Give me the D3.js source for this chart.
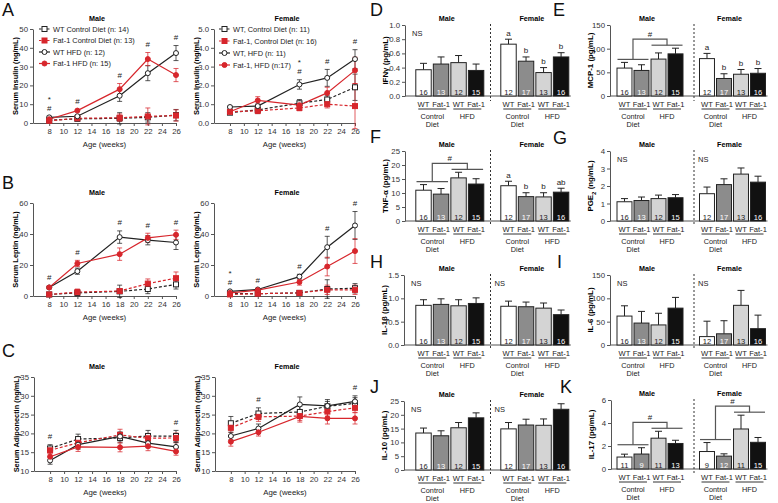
<!DOCTYPE html>
<html><head><meta charset="utf-8">
<script src="https://cdn.jsdelivr.net/npm/d3@7"></script>
<style>
body{margin:0;background:#fff}
svg{font-family:Arial,"Liberation Sans",Helvetica,sans-serif}
</style></head><body>
<svg id="c" width="778" height="503"></svg>
<script>
// ---------------- DATA ----------------
const ages=[8,12,18,22,26];
const xTicks=[8,10,12,14,16,18,20,22,24,26];
const legendMale=["WT Control Diet (n: 14)","Fat-1 Control Diet (n: 13)","WT HFD (n: 12)","Fat-1 HFD (n: 15)"];
const legendFemale=["WT, Control Diet (n: 11)","Fat-1, Control Diet (n: 16)","WT, HFD (n: 11)","Fat-1, HFD (n:17)"];
// series order: WT CD, Fat-1 CD, WT HFD, Fat-1 HFD
const insulinMale=[[1.5,2.2,2.5,3.0,4.2],[1.2,2.5,2.8,3.5,4.0],[3.0,3.6,14.5,26.5,37.2],[2.0,6.6,18.0,34.0,25.5]];
const insulinMaleErr=[[0.4,0.6,3.0,2.5,3.0],[0.5,0.5,2.0,4.5,3.0],[0.6,0.6,3.0,4.0,4.0],[0.5,0.5,3.0,3.5,3.5]];
const insulinFemale=[[0.55,0.7,1.05,1.25,1.9],[0.6,0.65,0.8,1.0,0.9],[0.85,0.9,2.05,2.4,3.4],[0.6,1.2,0.95,1.6,2.8]];
const insulinFemaleErr=[[0.1,0.2,0.2,0.2,0.7],[0.1,0.15,0.15,0.2,1.2],[0.05,0.1,0.25,0.45,0.5],[0.1,0.2,0.15,0.3,0.7]];
const leptinMale=[[1.0,2.0,3.0,4.5,7.5],[1.0,2.5,3.2,8.0,11.5],[5.5,16,38,36,34.5],[5.5,21,27,37.5,39.5]];
const leptinMaleErr=[[0.5,2,4,3,3],[0.5,2,1,3,4],[0.5,2,4,3,4.5],[1,2,4,3,3]];
const leptinFemale=[[1.5,1.5,2.0,4.5,5.0],[1.0,1.5,2.0,4.0,4.0],[3.0,4.2,12.5,31.5,45.5],[2.0,3.8,9.0,19.0,29.0]];
const leptinFemaleErr=[[0.5,0.5,1,6,3],[0.5,0.5,1,3,3],[0.5,0.5,1.5,7,9],[0.5,0.5,2,6,8]];
const adipoMale=[[16.0,18.5,18.8,19.3,19.3],[15.5,17.5,19.6,18.7,18.8],[12.8,17.0,19.2,17.4,16.4],[13.8,16.4,16.3,16.6,15.2]];
const adipoMaleErr=[[1,1.3,1.3,1.5,1.5],[1,1,1.5,1.3,1.3],[1,1.2,1.2,1.2,1.2],[1,1.2,1.2,1.2,1]];
const adipoFemale=[[22.7,25.3,25.7,27.2,28.0],[21.5,24.4,24.6,25.8,26.8],[19.3,21.3,27.7,27.3,28.5],[17.8,20.3,24.5,24.0,24.0]];
const adipoFemaleErr=[[1.8,1.5,1.5,1.8,1.5],[1.2,1.2,1.2,1.2,1.2],[1,1.2,2,1.2,1.5],[1.2,1,1.5,1.5,1.5]];
const sigInsulinMale=[[8,"#","*"],[12,"#"],[18,"#"],[22,"#"],[26,"#"]];
const sigInsulinFemale=[[18,"#","*"],[22,"#"],[26,"#"]];
const sigLeptinMale=[[8,"#"],[12,"#"],[18,"#"],[22,"#"],[26,"#"]];
const sigLeptinFemale=[[8,"#","*"],[12,"#"],[18,"#"],[22,"#"],[26,"#"]];
const sigAdipoMale=[[8,"#"],[26,"#"]];
const sigAdipoFemale=[[12,"#"],[26,"#"]];

const barGroups=["WT","Fat-1","WT","Fat-1"];
const nMale=[16,13,12,15], nFemale=[12,17,13,16];
const nMaleK=[11,9,11,13], nFemaleK=[9,12,11,15];
const ifngMale=[0.37,0.45,0.47,0.36], ifngMaleErr=[0.09,0.10,0.10,0.09];
const ifngFemale=[0.73,0.49,0.33,0.55], ifngFemaleErr=[0.07,0.06,0.07,0.06];
const mcpMale=[59,54,78,89], mcpMaleErr=[12,12,13,12];
const mcpFemale=[79,37,46,48], mcpFemaleErr=[11,10,10,10];
const tnfMale=[11.0,9.6,15.4,13.2], tnfMaleErr=[2.0,2.0,2.0,1.9];
const tnfFemale=[12.6,8.7,8.6,10.3], tnfFemaleErr=[1.6,1.4,1.5,1.4];
const pgeMale=[1.10,1.17,1.28,1.33], pgeMaleErr=[0.18,0.20,0.20,0.18];
const pgeFemale=[1.56,2.08,2.68,2.22], pgeFemaleErr=[0.38,0.33,0.35,0.34];
const il1Male=[0.85,0.87,0.84,0.89], il1MaleErr=[0.12,0.12,0.13,0.12];
const il1Female=[0.83,0.82,0.79,0.65], il1FemaleErr=[0.11,0.10,0.11,0.10];
const il6Male=[62,47,43,79], il6MaleErr=[22,25,25,23];
const il6Female=[18,24,85,35], il6FemaleErr=[33,28,32,29];
const il10Male=[13.4,12.4,15.3,18.9], il10MaleErr=[1.8,1.8,1.9,1.8];
const il10Female=[14.9,16.3,16.2,22.0], il10FemaleErr=[2.3,2.1,2.3,2.0];
const il17Male=[1.04,1.30,2.68,2.22], il17MaleErr=[0.25,0.55,0.60,0.28];
const il17Female=[1.52,1.12,3.48,2.32], il17FemaleErr=[0.78,0.20,1.20,0.42];
const lettersD=["a","b","b","b"], lettersE=["a","b","b","b"], lettersF=["a","b","b","ab"];

// ---------------- DRAWING ----------------
const RED="#d7262c";
const svg=d3.select("#c");
const lineStyles=[{c:"#222",dash:"3,2",shape:"sq",fill:"#fff"},{c:RED,dash:"3,2",shape:"sq",fill:RED},{c:"#222",dash:null,shape:"ci",fill:"#fff"},{c:RED,dash:null,shape:"ci",fill:RED}];

function styleAxis(sel){
  sel.selectAll("path,line").attr("stroke","#555").attr("stroke-width",1);
  sel.selectAll("text").attr("fill","#333").attr("font-size",7.8);
}
function marker(g,shape,x,y,st){
  if(shape==="sq") g.append("rect").attr("x",x-2.5).attr("y",y-2.5).attr("width",5).attr("height",5).attr("fill",st.fill).attr("stroke",st.c).attr("stroke-width",1);
  else g.append("circle").attr("cx",x).attr("cy",y).attr("r",2.5).attr("fill",st.fill).attr("stroke",st.c).attr("stroke-width",1);
}
function panelLetter(t,x,y){svg.append("text").attr("x",x).attr("y",y).attr("font-size",18).attr("fill","#111").text(t);}

function linePanel(o){
  const g=svg.append("g");
  const x=d3.scaleLinear().domain([5.7,26]).range([o.ax,o.ax+o.w]);
  const y=d3.scaleLinear().domain(o.yDomain).range([o.yBot,o.yTop]);
  g.append("g").attr("transform",`translate(${o.ax},0)`).call(d3.axisLeft(y).tickValues(o.yTicks).tickSize(3).tickSizeOuter(0).tickPadding(2)).call(styleAxis);
  g.append("g").attr("transform",`translate(0,${o.yBot})`).call(d3.axisBottom(x).tickValues(xTicks).tickSize(3).tickSizeOuter(0).tickPadding(2)).call(styleAxis);
  g.append("text").attr("x",o.titleX).attr("y",o.yTop-8).attr("text-anchor","middle").attr("font-weight","bold").attr("font-size",7.2).text(o.title);
  g.append("text").attr("transform",`translate(${o.ax-18},${(o.yTop+o.yBot)/2}) rotate(-90)`).attr("text-anchor","middle").attr("dy","0.35em").attr("font-weight","bold").attr("font-size",7.4).text(o.ylabel);
  g.append("text").attr("x",o.ax+o.w/2).attr("y",o.yBot+24).attr("text-anchor","middle").attr("font-size",7.8).attr("fill","#222").text("Age (weeks)");
  // error bars
  o.vals.forEach((vals,k)=>{
    const st=lineStyles[k];
    vals.forEach((v,i)=>{
      const e=o.errs[k][i], xx=x(ages[i]);
      g.append("line").attr("x1",xx).attr("x2",xx).attr("y1",y(v-e)).attr("y2",y(v+e)).attr("stroke",st.c).attr("stroke-opacity",0.75);
      [v-e,v+e].forEach(t=>g.append("line").attr("x1",xx-2.5).attr("x2",xx+2.5).attr("y1",y(t)).attr("y2",y(t)).attr("stroke",st.c).attr("stroke-opacity",0.75));
    });
  });
  const line=d3.line().x((d,i)=>x(ages[i])).y(d=>y(d));
  o.vals.forEach((vals,k)=>{
    const st=lineStyles[k];
    g.append("path").attr("d",line(vals)).attr("fill","none").attr("stroke",st.c).attr("stroke-width",1.2).attr("stroke-dasharray",st.dash);
  });
  o.vals.forEach((vals,k)=>{
    const st=lineStyles[k];
    vals.forEach((v,i)=>marker(g,st.shape,x(ages[i]),y(v),st));
  });
  // significance marks
  o.sig.forEach(s=>{
    const i=ages.indexOf(s[0]);
    const top=d3.min(o.vals.map((vals,k)=>y(vals[i]+o.errs[k][i])));
    s.slice(1).forEach((m,j)=>{
      g.append("text").attr("x",x(s[0])).attr("y",top-5.5-j*9.2).attr("text-anchor","middle").attr("font-size",8).attr("fill","#222").text(m);
    });
  });
  if(o.legend){
    o.legend.forEach((t,k)=>{
      const st=lineStyles[k], ly=o.yTop+k*o.ls;
      g.append("line").attr("x1",o.lx).attr("x2",o.lx+11).attr("y1",ly).attr("y2",ly).attr("stroke",st.c).attr("stroke-width",1.2).attr("stroke-dasharray",st.dash?"2.5,1.5":null);
      marker(g,st.shape,o.lx+5.5,ly,st);
      g.append("text").attr("x",o.lx+14).attr("y",ly).attr("dy","0.35em").attr("font-size",7.4).attr("fill","#222").text(t);
    });
  }
}

const barFills=["#ffffff","#8c8c8c","#d4d4d4","#111111"];
const numFills=["#222","#fff","#222","#fff"];
function barPanel(o){
  const g=svg.append("g");
  const y=d3.scaleLinear().domain(o.domain).range([o.yBot,o.yTop]);
  const sb=d3.scaleBand().domain(["Male","Female"]).range([o.x0,o.x0+o.fo+o.gw]).paddingInner((o.fo-o.gw)/o.fo);
  const gb=d3.scaleBand().domain([0,1,2,3]).range([0,o.gw]).paddingInner(0.12);
  const bw=gb.bandwidth();
  const cx=(s,i)=>sb(s)+gb(i)+bw/2;
  g.append("g").attr("transform",`translate(${o.ax},0)`).call(d3.axisLeft(y).tickValues(o.ticks).tickFormat(d3.format(o.fmt)).tickSize(3).tickSizeOuter(0).tickPadding(2)).call(styleAxis);
  g.append("line").attr("x1",o.ax).attr("x2",cx("Female",3)+bw/2+2).attr("y1",o.yBot).attr("y2",o.yBot).attr("stroke","#555");
  g.append("text").attr("transform",`translate(${o.ax-20},${(o.yTop+o.yBot)/2}) rotate(-90)`).attr("text-anchor","middle").attr("dy","0.35em").attr("font-weight","bold").attr("font-size",7.9).html(o.ylabel);
  g.append("line").attr("x1",o.sepX).attr("x2",o.sepX).attr("y1",o.yTop-1).attr("y2",o.yBot+5).attr("stroke","#333").attr("stroke-dasharray","2,2");
  const data={Male:[o.male,o.maleErr,o.nM],Female:[o.female,o.femaleErr,o.nF]};
  ["Male","Female"].forEach(s=>{
    const [vals,errs,ns]=data[s];
    g.append("text").attr("x",(cx(s,0)+cx(s,3))/2-3).attr("y",o.yTop-4).attr("text-anchor","middle").attr("font-weight","bold").attr("font-size",7.2).text(s);
    vals.forEach((v,i)=>{
      const xx=cx(s,i);
      g.append("line").attr("x1",xx).attr("x2",xx).attr("y1",y(v)).attr("y2",y(v+errs[i])).attr("stroke","#222");
      g.append("line").attr("x1",xx-3.5).attr("x2",xx+3.5).attr("y1",y(v+errs[i])).attr("y2",y(v+errs[i])).attr("stroke","#222");
      g.append("rect").attr("x",xx-bw/2).attr("y",y(v)).attr("width",bw).attr("height",o.yBot-y(v)).attr("fill",barFills[i]).attr("stroke","#222").attr("stroke-width",1);
      g.append("text").attr("x",xx).attr("y",o.yBot-1.5).attr("text-anchor","middle").attr("font-size",7.6).attr("fill",numFills[i]).text(ns[i]);
      g.append("text").attr("x",xx).attr("y",o.yBot+10.5).attr("text-anchor","middle").attr("font-size",7.6).attr("fill","#222").text(barGroups[i]);
    });
    [[0,1,["Control","Diet"]],[2,3,["HFD"]]].forEach(p=>{
      const m=(cx(s,p[0])+cx(s,p[1]))/2;
      g.append("line").attr("x1",m-14).attr("x2",m+14).attr("y1",o.yBot+13).attr("y2",o.yBot+13).attr("stroke","#333");
      p[2].forEach((t,j)=>g.append("text").attr("x",m).attr("y",o.yBot+22.5+j*8).attr("text-anchor","middle").attr("font-size",7.3).attr("fill","#222").text(t));
    });
    if(o.ns&&o.ns.includes(s)){
      g.append("text").attr("x",s==="Male"?o.ax+7:o.sepX+4).attr("y",o.yTop+11).attr("font-size",7.5).attr("fill","#222").text("NS");
    }
    if(o.letters&&s==="Female"){
      vals.forEach((v,i)=>g.append("text").attr("x",cx(s,i)).attr("y",y(v+errs[i])-3.5).attr("text-anchor","middle").attr("font-size",8).attr("fill","#222").text(o.letters[i]));
    }
    if(o.brackets&&o.brackets.includes(s)){
      const t1=d3.min([0,1],i=>y(vals[i]+errs[i]))-3, t2=d3.min([2,3],i=>y(vals[i]+errs[i]))-3;
      const top=Math.min(t1,t2)-6;
      const m1=(cx(s,0)+cx(s,1))/2, m2=(cx(s,2)+cx(s,3))/2;
      const bs="#555";
      g.append("line").attr("x1",cx(s,0)-7).attr("x2",cx(s,1)+7).attr("y1",t1).attr("y2",t1).attr("stroke",bs).attr("stroke-width",1.2);
      g.append("line").attr("x1",cx(s,2)-7).attr("x2",cx(s,3)+7).attr("y1",t2).attr("y2",t2).attr("stroke",bs).attr("stroke-width",1.2);
      g.append("path").attr("d",`M${m1},${t1}V${top}H${m2}V${t2}`).attr("fill","none").attr("stroke",bs).attr("stroke-width",1.2);
      g.append("text").attr("x",(m1+m2)/2).attr("y",top-2.5).attr("text-anchor","middle").attr("font-size",8).attr("fill","#222").text("#");
    }
  });
}

// Line panels
panelLetter("A",2,16); panelLetter("B",2,189); panelLetter("C",2,357);
linePanel({ax:33,w:143,yTop:29,yBot:123,yDomain:[0,50],yTicks:[0,10,20,30,40,50],title:"Male",titleX:97,ylabel:"Serum Insulin (ng/mL)",vals:insulinMale,errs:insulinMaleErr,sig:sigInsulinMale,legend:legendMale,lx:39,ls:11.5});
linePanel({ax:214,w:141,yTop:29,yBot:123,yDomain:[0,5],yTicks:[0,1,2,3,4,5],title:"Female",titleX:287,ylabel:"Serum Insulin (ng/mL)",vals:insulinFemale,errs:insulinFemaleErr,sig:sigInsulinFemale,legend:legendFemale,lx:219,ls:12});
linePanel({ax:33,w:143,yTop:203,yBot:296,yDomain:[0,60],yTicks:[0,20,40,60],title:"Male",titleX:97,ylabel:"Serum Leptin (ng/mL)",vals:leptinMale,errs:leptinMaleErr,sig:sigLeptinMale});
linePanel({ax:214,w:141,yTop:203,yBot:296,yDomain:[0,60],yTicks:[0,20,40,60],title:"Female",titleX:287,ylabel:"Serum Leptin (ng/mL)",vals:leptinFemale,errs:leptinFemaleErr,sig:sigLeptinFemale});
linePanel({ax:34,w:142,yTop:377,yBot:471,yDomain:[10,35],yTicks:[10,15,20,25,30,35],title:"Male",titleX:97,ylabel:"Serum Adiponectin (ng/mL)",vals:adipoMale,errs:adipoMaleErr,sig:sigAdipoMale});
linePanel({ax:215,w:140,yTop:377,yBot:471,yDomain:[10,35],yTicks:[10,15,20,25,30,35],title:"Female",titleX:287,ylabel:"Serum Adiponectin (ng/mL)",vals:adipoFemale,errs:adipoFemaleErr,sig:sigAdipoFemale});

// Bar panels
const L={ax:405,x0:415.8,gw:68,fo:85,sepX:490.5}, R={ax:610,x0:617,gw:66,fo:82.5,sepX:694};
panelLetter("D",370,16); panelLetter("E",553,16); panelLetter("F",370,143); panelLetter("G",553,144);
panelLetter("H",370,268); panelLetter("I",557,268); panelLetter("J",370,393); panelLetter("K",560,393);
barPanel({...L,yTop:25,yBot:96,domain:[0,1],ticks:[0,0.2,0.4,0.6,0.8,1],fmt:".1f",ylabel:"IFNγ (pg/mL)",male:ifngMale,maleErr:ifngMaleErr,female:ifngFemale,femaleErr:ifngFemaleErr,nM:nMale,nF:nFemale,ns:["Male"],letters:lettersD});
barPanel({...R,yTop:25,yBot:96,domain:[0,150],ticks:[0,50,100,150],fmt:"d",ylabel:"MCP-1 (pg/mL)",male:mcpMale,maleErr:mcpMaleErr,female:mcpFemale,femaleErr:mcpFemaleErr,nM:nMale,nF:nFemale,letters:lettersE,brackets:["Male"]});
barPanel({...L,yTop:151,yBot:221,domain:[0,25],ticks:[0,5,10,15,20,25],fmt:"d",ylabel:"TNF-α (pg/mL)",male:tnfMale,maleErr:tnfMaleErr,female:tnfFemale,femaleErr:tnfFemaleErr,nM:nMale,nF:nFemale,letters:lettersF,brackets:["Male"]});
barPanel({...R,yTop:151,yBot:221,domain:[0,4],ticks:[0,1,2,3,4],fmt:"d",ylabel:"PGE<tspan baseline-shift='sub' font-size='6'>2</tspan> (ng/mL)",male:pgeMale,maleErr:pgeMaleErr,female:pgeFemale,femaleErr:pgeFemaleErr,nM:nMale,nF:nFemale,ns:["Male","Female"]});
barPanel({...L,ax:404,yTop:275,yBot:345,domain:[0,1.5],ticks:[0,0.5,1,1.5],fmt:".1f",ylabel:"IL-1β (pg/mL)",male:il1Male,maleErr:il1MaleErr,female:il1Female,femaleErr:il1FemaleErr,nM:nMale,nF:nFemale,ns:["Male","Female"]});
barPanel({...R,yTop:275,yBot:345,domain:[0,150],ticks:[0,50,100,150],fmt:"d",ylabel:"IL-6 (pg/mL)",male:il6Male,maleErr:il6MaleErr,female:il6Female,femaleErr:il6FemaleErr,nM:nMale,nF:nFemale,ns:["Male","Female"]});
barPanel({...L,ax:404,yTop:401,yBot:470,domain:[0,25],ticks:[0,5,10,15,20,25],fmt:"d",ylabel:"IL-10 (pg/mL)",male:il10Male,maleErr:il10MaleErr,female:il10Female,femaleErr:il10FemaleErr,nM:nMale,nF:nFemale,ns:["Male","Female"]});
barPanel({...R,ax:611,yTop:400,yBot:469,domain:[0,6],ticks:[0,2,4,6],fmt:"d",ylabel:"IL-17 (pg/mL)",male:il17Male,maleErr:il17MaleErr,female:il17Female,femaleErr:il17FemaleErr,nM:nMaleK,nF:nFemaleK,brackets:["Male","Female"]});
</script>
</body></html>
